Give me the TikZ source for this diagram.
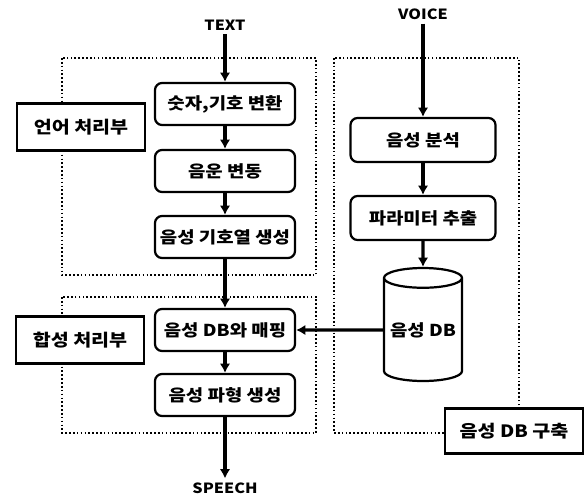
\documentclass[tikz,border=0pt]{standalone}
\usepackage{fontspec}
\setmainfont{Noto Sans CJK KR}[FakeStretch=1.15]
\usetikzlibrary{shapes.geometric,arrows.meta}

\begin{document}
\begin{tikzpicture}[x=0.03cm,y=-0.03cm,>={Latex[length=8pt,width=9pt]},
    stage/.style={draw,rounded corners=6pt,line width=1.9pt,minimum width=4.2cm,minimum height=1.26cm,inner sep=0pt,font=\fontsize{14}{16}\selectfont\bfseries},
    part/.style={draw,fill=white,line width=2.2pt,minimum width=3.84cm,minimum height=1.41cm,inner sep=0pt,font=\fontsize{14.5}{16}\selectfont\bfseries},
    zone/.style={line width=1.8pt,dash pattern=on 1.4pt off 1.9pt},
    io/.style={font=\fontsize{12}{14}\selectfont\bfseries},
    flow/.style={->,line width=2.6pt}]
  \useasboundingbox (0,0) rectangle (587,497);
  % dotted regions
  \draw[zone] (62,58) rectangle (316,275);
  \draw[zone] (62,297) rectangle (316,433);
  \draw[zone] (334,58) rectangle (519,433);
  \node[part] (lang) at (81,127) {언어 처리부};
  \node[part] (synth) at (80,340) {합성 처리부};
  \node[part,minimum width=4.14cm,minimum height=1.35cm] (build) at (514,431) {음성 DB 구축};
  % text side
  \node[io] (text) at (225,25) {TEXT};
  \node[stage] (b1) at (225,104) {숫자,기호 변환};
  \node[stage] (b2) at (225,171) {음운 변동};
  \node[stage] (b3) at (225,237) {음성 기호열 생성};
  \node[stage] (b4) at (225,330) {음성 DB와 매핑};
  \node[stage] (b5) at (225,395) {음성 파형 생성};
  \node[io] (speech) at (225,488) {SPEECH};
  % voice side
  \node[io] (voice) at (423,14) {VOICE};
  \node[stage,minimum width=4.35cm,minimum height=1.32cm] (r1) at (423,140) {음성 분석};
  \node[stage,minimum width=4.35cm,minimum height=1.32cm] (r2) at (423,218) {파라미터 추출};
  \node[cylinder,shape border rotate=90,draw,line width=1.9pt,aspect=0.3,
        minimum width=2.34cm,minimum height=3.39cm,inner sep=0pt,
        font=\fontsize{14}{16}\selectfont\bfseries] (db) at (423,330) {음성 DB};
  \draw[flow] (text) -- (b1);
  \draw[flow] (b1) -- (b2);
  \draw[flow] (b2) -- (b3);
  \draw[flow] (b3) -- (b4);
  \draw[flow] (b4) -- (b5);
  \draw[flow] (b5) -- (speech);
  \draw[flow] (voice) -- (r1);
  \draw[flow] (r1) -- (r2);
  \draw[flow] (r2) -- (db);
  \draw[flow] (db.west) -- (b4.east);
\end{tikzpicture}
\end{document}
